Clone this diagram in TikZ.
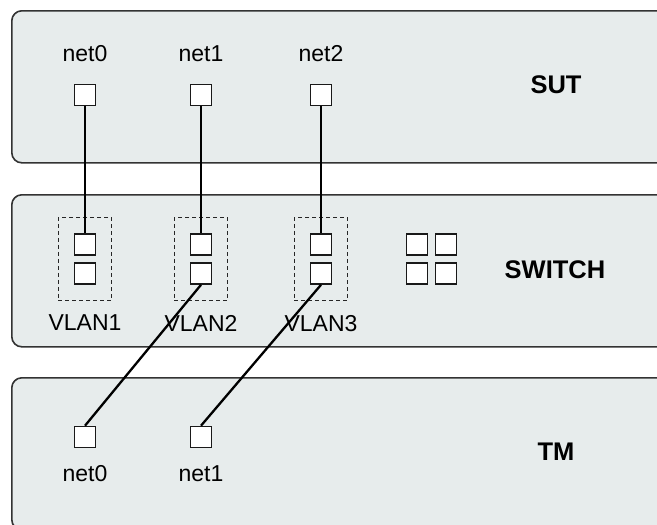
\documentclass[tikz,border=0pt]{standalone}
\usepackage{fontspec}
\setmainfont{Liberation Sans}
\definecolor{panelfill}{HTML}{E7ECEC}
\definecolor{paneldraw}{HTML}{333333}
\usetikzlibrary{positioning, fit}

\begin{document}
\begin{tikzpicture}[
  x=1pt, y=-1pt,
  node distance=22pt,
  panel/.style={
    draw=paneldraw, line width=1.6pt, fill=panelfill, rounded corners=10pt,
    minimum width=660pt, minimum height=152pt, anchor=north west, inner sep=0pt
  },
  port/.style={draw=black!90, line width=1.6pt, fill=white, minimum size=21pt, inner sep=0pt},
  vlan/.style={draw=black!85, dash pattern=on 4pt off 3pt, line width=1.2pt, inner sep=15.5pt},
  lbl/.style={font=\fontsize{23}{26}\selectfont, inner sep=0pt},
  title/.style={font=\fontsize{25.5}{28}\selectfont\bfseries, inner sep=0pt},
  wire/.style={line width=2.3pt, black}
]
\useasboundingbox (0,0) rectangle (657,525);
\clip (0,0) rectangle (657,525);

% Panels
\node[panel] (sut)    at (11,10)  {};
\node[panel] (switch) at (11,194) {};
\node[panel] (tm)     at (11,377) {};

\node[title] (sut-title)    at (556,85)  {SUT};
\node[title] (switch-title) at (555,270) {SWITCH};
\node[title] (tm-title)     at (556,452) {TM};

% SUT ports
\node[port] (sut-net0) at (85,95)  {};
\node[port] (sut-net1) at (201,95) {};
\node[port] (sut-net2) at (321,95) {};
\node[lbl, above=of sut-net0] {net0};
\node[lbl, above=of sut-net1] {net1};
\node[lbl, above=of sut-net2] {net2};

% Switch ports, grouped per VLAN
\node[port] (v1-up)  at (85,244.5)  {};
\node[port] (v1-low) at (85,273.5)  {};
\node[port] (v2-up)  at (201,244.5) {};
\node[port] (v2-low) at (201,273.5) {};
\node[port] (v3-up)  at (321,244.5) {};
\node[port] (v3-low) at (321,273.5) {};
\node[vlan, fit=(v1-up)(v1-low)] (vlan1) {};
\node[vlan, fit=(v2-up)(v2-low)] (vlan2) {};
\node[vlan, fit=(v3-up)(v3-low)] (vlan3) {};
\node[lbl, below=14pt of vlan1] {VLAN1};
\node[lbl, below=14pt of vlan2] {VLAN2};
\node[lbl, below=14pt of vlan3] {VLAN3};

% Switch icon
\foreach \x in {417,446}
  \foreach \y in {244.5,273.5}
    \node[port] at (\x,\y) {};

% TM ports
\node[port] (tm-net0) at (85,437)  {};
\node[port] (tm-net1) at (201,437) {};
\node[lbl, below=17pt of tm-net0] {net0};
\node[lbl, below=17pt of tm-net1] {net1};

% SUT to switch
\draw[wire] (sut-net0.south) -- (v1-up.north);
\draw[wire] (sut-net1.south) -- (v2-up.north);
\draw[wire] (sut-net2.south) -- (v3-up.north);

% Switch to TM
\draw[wire] (v2-low.south) -- (tm-net0.north);
\draw[wire] (v3-low.south) -- (tm-net1.north);

\end{tikzpicture}
\end{document}
